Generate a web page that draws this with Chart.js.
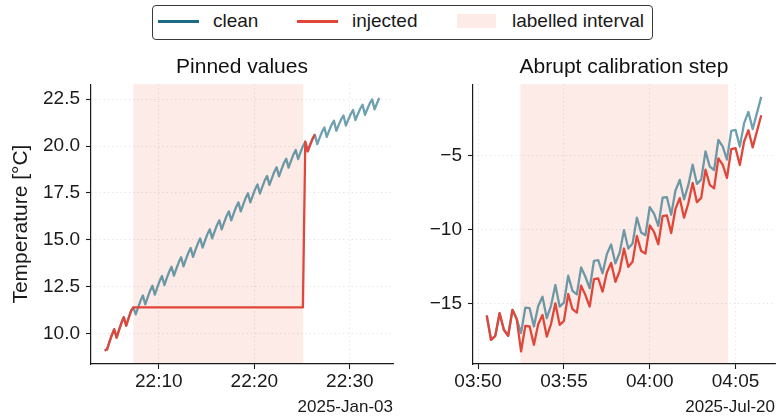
<!DOCTYPE html>
<html>
<head>
<meta charset="utf-8">
<script src="https://cdn.jsdelivr.net/npm/chart.js@4.4.1/dist/chart.umd.min.js"></script>
<style>
  html, body { margin: 0; padding: 0; background: #fff; }
  body { width: 780px; height: 416px; position: relative; overflow: hidden;
         font-family: 'Liberation Sans', Arial, sans-serif; color: #1a1a1a; }
  #wrapL { position: absolute; left: 0; top: 44px; width: 410px; height: 374px; }
  #wrapR { position: absolute; left: 410px; top: 44px; width: 370px; height: 374px; }
  .legend { position: absolute; left: 152px; top: 5px; width: 501px; height: 35px;
            box-sizing: border-box; border: 1.3px solid #3a3a3a; border-radius: 4px; background: #fff; }
  .legend .ln { position: absolute; top: 14px; width: 41px; height: 2.5px; }
  .legend .patch { position: absolute; top: 8px; width: 39px; height: 14px; }
  .legend .txt { position: absolute; top: 4px; height: 22px; line-height: 22px; font-size: 19px; white-space: nowrap; }
</style>
</head>
<body>
<div class="legend">
  <div class="ln" style="left:5px;background:#1c6a84"></div>
  <div class="txt" style="left:60px">clean</div>
  <div class="ln" style="left:144px;background:#e1463b"></div>
  <div class="txt" style="left:199px">injected</div>
  <div class="patch" style="left:304px;background:rgba(231,111,81,0.14)"></div>
  <div class="txt" style="left:359px">labelled interval</div>
</div>
<div id="wrapL"><canvas id="left" width="410" height="374"></canvas></div>
<div id="wrapR"><canvas id="right" width="370" height="374"></canvas></div>
<script>
// ---- left panel: pinned values (15 s samples from 22:04:20) ----
const leftStart = '22:04:20';
const leftClean = [
  9.10, 9.16, 9.56, 9.93, 10.23, 9.79, 10.19, 10.57, 10.87, 10.42, 10.82, 11.20,
  11.40, 11.03, 11.40, 11.75, 12.03, 11.56, 11.93, 12.28, 12.55, 12.08, 12.45, 12.80,
  13.07, 12.59, 12.96, 13.30, 13.57, 13.09, 13.46, 13.80, 14.07, 13.59, 13.96, 14.30,
  14.57, 14.09, 14.46, 14.80, 15.07, 14.59, 14.96, 15.30, 15.56, 15.08, 15.44, 15.78,
  16.04, 15.56, 15.92, 16.26, 16.52, 16.04, 16.40, 16.74, 17.00, 16.52, 16.88, 17.22,
  17.48, 17.00, 17.36, 17.70, 17.95, 17.47, 17.82, 18.16, 18.41, 17.93, 18.28, 18.62,
  18.87, 18.39, 18.74, 19.08, 19.33, 18.85, 19.20, 19.54, 19.79, 19.31, 19.66, 19.99,
  20.23, 19.72, 20.06, 20.37, 20.61, 20.10, 20.44, 20.76, 20.99, 20.49, 20.82, 21.13,
  21.35, 20.82, 21.13, 21.42, 21.63, 21.10, 21.41, 21.70, 21.92, 21.39, 21.70, 21.99,
  22.20, 21.67, 21.98, 22.28, 22.49, 21.96, 22.27, 22.56
];
const leftInjected = [
  9.10, 9.16, 9.56, 9.93, 10.23, 9.79, 10.19, 10.57, 10.87, 10.42, 10.82, 11.20,
  11.40, 11.40, 11.40, 11.40, 11.40, 11.40, 11.40, 11.40, 11.40, 11.40, 11.40, 11.40,
  11.40, 11.40, 11.40, 11.40, 11.40, 11.40, 11.40, 11.40, 11.40, 11.40, 11.40, 11.40,
  11.40, 11.40, 11.40, 11.40, 11.40, 11.40, 11.40, 11.40, 11.40, 11.40, 11.40, 11.40,
  11.40, 11.40, 11.40, 11.40, 11.40, 11.40, 11.40, 11.40, 11.40, 11.40, 11.40, 11.40,
  11.40, 11.40, 11.40, 11.40, 11.40, 11.40, 11.40, 11.40, 11.40, 11.40, 11.40, 11.40,
  11.40, 11.40, 11.40, 11.40, 11.40, 11.40, 11.40, 11.40, 11.40, 11.40, 11.40, 11.40,
  20.23, 19.72, 20.06, 20.37, 20.61
];
const leftInterval = ['22:07:20', '22:25:07'];
const leftXRange = ['22:02:54', '22:34:31'];
const leftXTicks = ['22:10', '22:20', '22:30'];
const leftYTicks = [10, 12.5, 15, 17.5, 20, 22.5];
const leftYTickLabels = ['10.0', '12.5', '15.0', '17.5', '20.0', '22.5'];
const leftYRange = [8.38, 23.3];

// ---- right panel: abrupt calibration step (15 s samples from 03:50:30) ----
const rightStart = '03:50:30';
const rightClean = [
  -15.83, -17.47, -17.20, -15.67, -16.79, -17.20, -15.44, -16.07, -17.02, -15.29,
  -15.33, -16.57, -15.18, -14.55, -16.01, -15.15, -13.76, -15.22, -14.95, -13.13,
  -14.16, -14.39, -12.57, -13.20, -13.98, -12.12, -12.08, -12.97, -11.67, -11.02,
  -12.30, -11.56, -10.05, -11.29, -10.95, -9.20, -10.21, -10.39, -8.48, -8.93,
  -9.76, -7.85, -7.81, -9.00, -7.36, -6.64, -7.96, -6.98, -5.61, -6.91,
  -6.62, -4.71, -5.74, -5.97, -3.94, -4.37, -5.27, -3.32, -3.25, -4.39,
  -2.80, -2.04, -3.20, -2.10, -1.02
];
const rightInjected = [
  -15.83, -17.47, -17.20, -15.67, -16.79, -17.20, -15.44, -16.07, -18.26, -16.53,
  -16.57, -17.81, -16.42, -15.79, -17.25, -16.39, -15.00, -16.46, -16.19, -14.37,
  -15.40, -15.63, -13.81, -14.44, -15.22, -13.36, -13.32, -14.21, -12.91, -12.26,
  -13.54, -12.80, -11.29, -12.53, -12.19, -10.44, -11.45, -11.63, -9.72, -10.17,
  -11.00, -9.09, -9.05, -10.24, -8.60, -7.88, -9.20, -8.22, -6.85, -8.15,
  -7.86, -5.95, -6.98, -7.21, -5.18, -5.61, -6.51, -4.56, -4.49, -5.63,
  -4.04, -3.28, -4.44, -3.34, -2.26
];
const rightInterval = ['03:52:28', '04:04:34'];
const rightXRange = ['03:49:42', '04:07:18'];
const rightXTicks = ['03:50', '03:55', '04:00', '04:05'];
const rightYTicks = [-15, -10, -5];
const rightYTickLabels = ['\u221215', '\u221210', '\u22125'];
const rightYRange = [-19.11, -0.16];

const SAMPLE_SECONDS = 15;
const RED = '#e1463b';
const CLEAN = 'rgba(28,106,132,0.64)';
const SHADE = 'rgba(231,111,81,0.14)';
const INK = '#1a1a1a';
const GRID = 'rgba(0,0,0,0.14)';

Chart.defaults.font.family = "'Liberation Sans', Arial, sans-serif";
Chart.defaults.color = INK;

const toMin = s => {
  const [h, m, sec = 0] = s.split(':').map(Number);
  return h * 60 + m + sec / 60;
};
const series = (start, values) =>
  values.map((v, i) => ({ x: toMin(start) + i * SAMPLE_SECONDS / 60, y: v }));

// shaded "labelled interval", drawn under grid and lines
const shadePlugin = {
  id: 'shade',
  beforeDraw(chart, args, opts) {
    const { ctx, chartArea, scales } = chart;
    const x0 = scales.x.getPixelForValue(toMin(opts.from));
    const x1 = scales.x.getPixelForValue(toMin(opts.to));
    ctx.save();
    ctx.fillStyle = SHADE;
    ctx.fillRect(x0, chartArea.top, x1 - x0, chartArea.bottom - chartArea.top);
    ctx.restore();
  }
};

const lineStyle = color => ({
  borderColor: color, borderWidth: 2.3, pointRadius: 0, tension: 0,
  borderJoinStyle: 'round', fill: false
});

const axisCommon = {
  grid: { color: GRID, lineWidth: 0.8, tickLength: 5, tickColor: INK, tickWidth: 1.1, tickBorderDash: [] },
  border: { display: true, color: INK, width: 1.2, dash: [1.2, 3] }
};

function makePanel(id, cfg) {
  return new Chart(document.getElementById(id), {
    type: 'line',
    data: {
      datasets: [
        { label: 'injected', data: series(cfg.start, cfg.injected), ...lineStyle(RED) },
        { label: 'clean', data: series(cfg.start, cfg.clean), ...lineStyle(CLEAN) }
      ]
    },
    options: {
      responsive: false,
      animation: false,
      events: [],
      layout: { padding: { left: 0, right: cfg.padRight, top: 0, bottom: 0 } },
      plugins: {
        legend: { display: false },
        tooltip: { enabled: false },
        title: {
          display: true, text: cfg.title, fullSize: false, color: '#111',
          font: { size: 21, weight: 'normal' }, padding: { top: 11, bottom: 4 }
        },
        shade: { from: cfg.interval[0], to: cfg.interval[1] }
      },
      scales: {
        x: {
          type: 'linear',
          min: toMin(cfg.xRange[0]), max: toMin(cfg.xRange[1]),
          afterFit: s => { s.height = 54; },
          afterBuildTicks: s => { s.ticks = cfg.xTicks.map(t => ({ value: toMin(t) })); },
          ticks: {
            callback: (v, i) => cfg.xTicks[i], font: { size: 19 }, color: INK,
            padding: 1, maxRotation: 0, autoSkip: false
          },
          title: {
            display: true, text: cfg.date, align: 'end', color: INK,
            font: { size: 17 }, padding: { top: 0, bottom: 0 }
          },
          ...axisCommon
        },
        y: {
          min: cfg.yRange[0], max: cfg.yRange[1],
          afterFit: s => { s.width = cfg.yWidth; },
          afterBuildTicks: s => { s.ticks = cfg.yTicks.map(v => ({ value: v })); },
          ticks: { callback: (v, i) => cfg.yTickLabels[i], font: { size: 19 }, color: INK, padding: 6 },
          title: {
            display: !!cfg.yTitle, text: cfg.yTitle || '', color: INK,
            font: { size: 21 }, padding: { top: 9, bottom: 0 }
          },
          ...axisCommon
        }
      }
    },
    plugins: [shadePlugin]
  });
}

makePanel('left', {
  title: 'Pinned values', date: '2025-Jan-03', yTitle: 'Temperature [\u00b0C]',
  start: leftStart, clean: leftClean, injected: leftInjected, interval: leftInterval,
  xRange: leftXRange, xTicks: leftXTicks, yTicks: leftYTicks, yTickLabels: leftYTickLabels,
  yRange: leftYRange, yWidth: 91, padRight: 17
});

makePanel('right', {
  title: 'Abrupt calibration step', date: '2025-Jul-20', yTitle: null,
  start: rightStart, clean: rightClean, injected: rightInjected, interval: rightInterval,
  xRange: rightXRange, xTicks: rightXTicks, yTicks: rightYTicks, yTickLabels: rightYTickLabels,
  yRange: rightYRange, yWidth: 63, padRight: 5
});
</script>
</body>
</html>
